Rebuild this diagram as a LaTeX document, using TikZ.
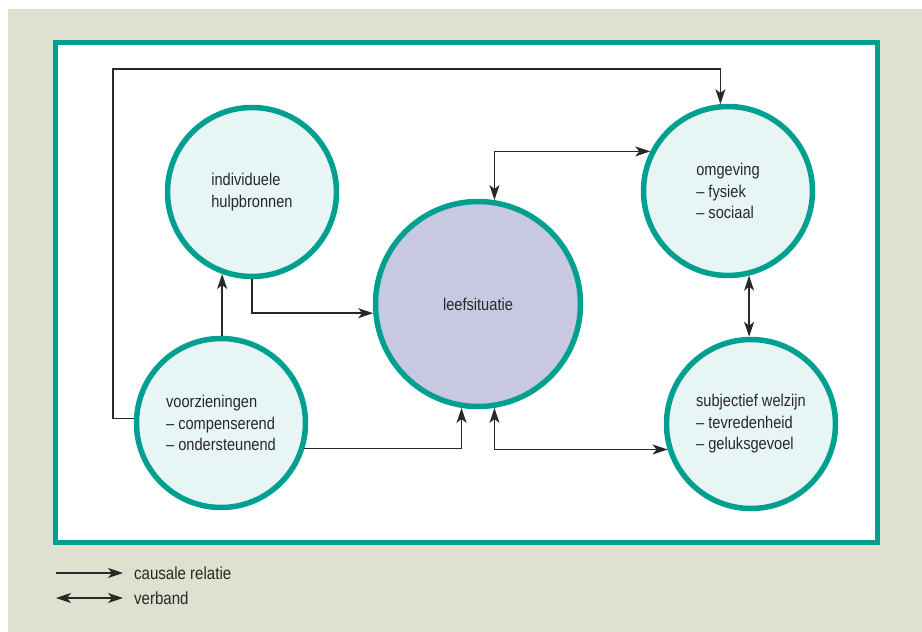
\documentclass[tikz,border=0pt]{standalone}
\usepackage{xcolor}
\usepackage{fontspec}
\setmainfont{Liberation Sans}[FakeStretch=0.86]
\usepackage{tikz}
\usetikzlibrary{arrows.meta,positioning,calc}
\definecolor{lsBeige}  {RGB}{224,224,208}
\definecolor{lsTeal}   {RGB}{  0,160,145}
\definecolor{lsTealXL} {RGB}{231,245,244}
\definecolor{lsLila}   {RGB}{200,200,226}
\definecolor{lsDark}   {RGB}{ 40, 40, 40}

\begin{document}
\begin{tikzpicture}[
  x=1pt,y=-1pt,
  >={Stealth[length=15pt,width=10pt,inset=4pt]},
  factor/.style={circle,draw=lsTeal,fill=lsTealXL,line width=5.5pt,
               align=left,minimum size=169pt,inner sep=0pt,
               text=lsDark,font=\fontsize{17}{21.5}\selectfont},
  relatie/.style={line width=1.4pt,draw=lsDark},
  legtext/.style={text=lsDark,font=\fontsize{17.5}{18}\selectfont,inner sep=0pt},
]
\useasboundingbox (0,0) rectangle (922,632);
\fill[lsBeige] (8,9) rectangle (922,632);
\draw[lsTeal,line width=5pt,fill=white] (55.5,42.5) rectangle (877.5,542.5);

% cirkels
\node[factor] (hulp) at (252,192) {individuele\\hulpbronnen};
\node[factor] (voor) at (221,423) {voorzieningen\\-- compenserend\\-- ondersteunend};
\node[factor,fill=lsLila,minimum size=205pt] (leef) at (478,304) {leefsituatie};
\node[factor] (omg) at (728,191) {omgeving\\-- fysiek\\-- sociaal};
\node[factor] (subj) at (751,424) {subjectief welzijn\\-- tevredenheid\\-- geluksgevoel};

% verbindingen
\coordinate (loop) at (113,69);
\draw[->,relatie] (hulp.south) |- (leef.185);
\draw[->,relatie] (hulp.250 |- voor.north) -- (hulp.250);
\draw[->,relatie] (voor.177) -| (loop) -| (omg.95);
\draw[->,relatie] (voor.-17) -| (leef.261);
\draw[<->,relatie] (leef.279) |- (subj.197);
\draw[<->,relatie] (leef.81) |- (omg.153);
\draw[<->,relatie] (omg.284) -- (omg.284 |- subj.north);

% legenda
\coordinate (lc0) at (56,573);
\coordinate (lc1) at (123,573);
\coordinate (lv0) at (56,598);
\coordinate (lv1) at (123,598);
\node[legtext,right=11pt of lc1] (lcaus) {causale relatie};
\node[legtext,right=11pt of lv1] (lverb) {verband};
\draw[->,relatie] (lc0) -- (lc1);
\draw[<->,relatie] (lv0) -- (lv1);
\end{tikzpicture}
\end{document}
